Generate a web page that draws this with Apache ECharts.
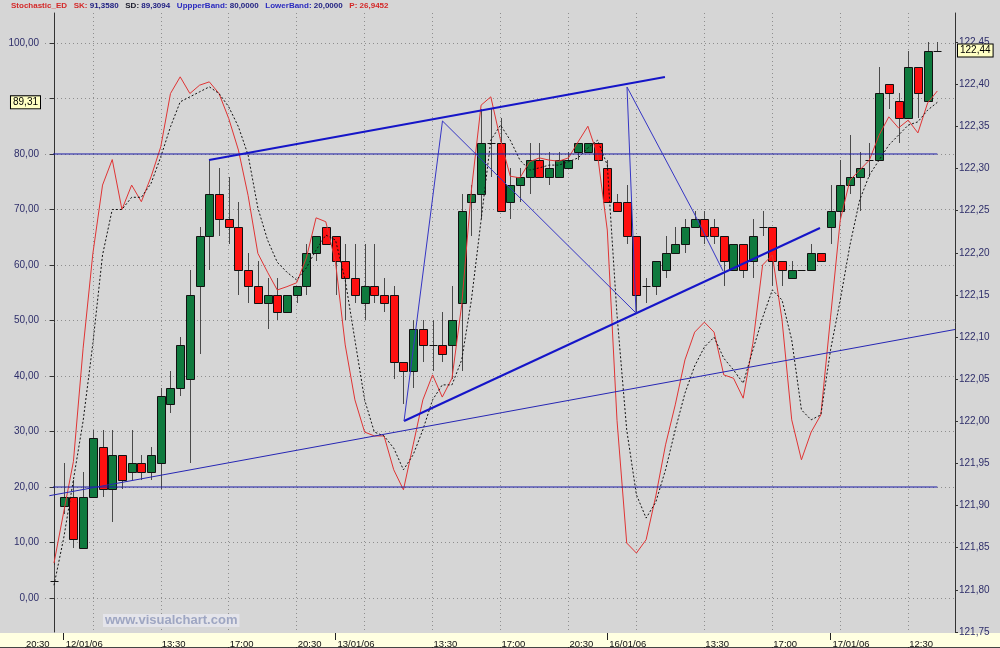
<!DOCTYPE html>
<html><head><meta charset="utf-8">
<script src="https://cdn.jsdelivr.net/npm/echarts@6/dist/echarts.min.js"></script>
<style>html,body{margin:0;padding:0;background:#d6d6d6}#c{width:1000px;height:648px}</style>
</head><body><div id="c"></div><script>
// ---------- DATA ----------
const opens  = [121.81,121.90,121.91,121.85,121.91,121.97,121.92,121.96,121.94,121.95,121.94,121.95,122.02,122.04,122.05,122.16,122.22,122.27,122.24,122.23,122.18,122.16,122.14,122.15,122.13,122.15,122.16,122.20,122.23,122.22,122.19,122.17,122.14,122.16,122.15,122.15,122.07,122.06,122.11,122.09,122.09,122.09,122.14,122.26,122.27,122.33,122.33,122.26,122.28,122.29,122.31,122.29,122.29,122.30,122.32,122.32,122.33,122.30,122.26,122.26,122.22,122.16,122.16,122.18,122.20,122.21,122.23,122.24,122.23,122.22,122.18,122.21,122.19,122.23,122.23,122.19,122.17,122.18,122.18,122.20,122.23,122.25,122.28,122.29,122.31,122.31,122.40,122.38,122.36,122.42,122.38,122.44];
const closes = [121.81,121.91,121.86,121.91,121.98,121.92,121.96,121.93,121.95,121.94,121.96,122.03,122.04,122.09,122.15,122.22,122.27,122.24,122.23,122.18,122.16,122.14,122.15,122.13,122.15,122.16,122.20,122.22,122.21,122.19,122.17,122.15,122.16,122.15,122.14,122.07,122.06,122.11,122.09,122.09,122.08,122.12,122.25,122.27,122.33,122.33,122.25,122.28,122.29,122.31,122.29,122.30,122.31,122.31,122.33,122.33,122.31,122.26,122.25,122.22,122.15,122.16,122.19,122.20,122.21,122.23,122.24,122.22,122.22,122.19,122.21,122.18,122.22,122.23,122.19,122.18,122.18,122.18,122.20,122.19,122.25,122.28,122.29,122.30,122.31,122.39,122.39,122.36,122.42,122.39,122.44,122.44];
const highs  = [121.83,121.95,121.93,121.94,121.99,121.99,121.99,121.96,121.99,121.96,121.97,122.04,122.06,122.10,122.18,122.23,122.31,122.30,122.29,122.26,122.20,122.19,122.17,122.17,122.15,122.16,122.21,122.22,122.23,122.22,122.21,122.21,122.21,122.21,122.17,122.16,122.07,122.12,122.12,122.12,122.13,122.16,122.27,122.28,122.37,122.37,122.36,122.30,122.30,122.33,122.33,122.32,122.32,122.32,122.33,122.33,122.33,122.31,122.27,122.28,122.22,122.17,122.19,122.22,122.23,122.24,122.25,122.25,122.24,122.22,122.21,122.21,122.24,122.25,122.23,122.19,122.19,122.18,122.21,122.20,122.28,122.31,122.34,122.32,122.33,122.42,122.40,122.39,122.44,122.42,122.45,122.45];
const lows   = [121.79,121.89,121.85,121.85,121.91,121.91,121.88,121.92,121.93,121.93,121.93,121.92,122.01,122.03,121.95,122.08,122.18,122.22,122.21,122.15,122.14,122.14,122.11,122.12,122.13,122.14,122.15,122.19,122.21,122.15,122.12,122.14,122.12,122.14,122.13,122.05,122.02,122.04,122.07,122.06,122.07,122.05,122.06,122.22,122.24,122.29,122.25,122.24,122.26,122.27,122.29,122.28,122.29,122.30,122.31,122.32,122.31,122.26,122.25,122.21,122.13,122.14,122.15,122.17,122.20,122.20,122.23,122.21,122.21,122.16,122.18,122.17,122.17,122.22,122.16,122.16,122.17,122.18,122.18,122.19,122.21,122.24,122.27,122.25,122.29,122.31,122.37,122.33,122.36,122.36,122.38,122.44];
const stochK = [6.3,15.5,24.6,45,62,74.4,79.0,70.0,74.4,71.4,75.9,81.3,90.9,93.9,90.9,92.4,93.0,90.9,86.4,80.7,72.5,62.1,58.7,55.5,56.1,56.8,61.3,68.5,67.8,60.5,45.6,35.7,29.9,29.2,29.2,23.1,19.5,27.6,35.7,40.2,36.2,39.6,52.8,73.5,88.8,90.3,82.5,76.0,75.7,78.6,79.3,78.9,78.7,79.3,82.2,85.0,79.8,66.3,32.0,9.9,8.1,10.5,18.4,27.6,34.8,42.9,47.9,49.7,47.9,40.2,39.6,36.0,45.9,60.0,61.8,50.1,32.1,24.9,29.9,33.0,50.6,68.1,75.3,77.1,78.9,83.4,86.7,84.7,86.1,83.8,89.2,91.358];
const stochD = [2.3,10.8,21.3,31.9,45.8,61.8,70.0,70.0,72.2,72.2,74.7,79.5,84.9,89.4,90.3,91.2,92.1,90.9,88.5,84.9,79.8,70.3,64.5,60.5,58.7,57.3,59.5,62.7,65.4,64.5,57.3,46.5,35.7,29.9,29.2,27.0,23.1,25.8,30.3,35.7,38.4,38.4,42.9,53.7,68.1,82.5,85.2,82.5,78.9,77.1,77.5,78.0,78.0,78.6,79.3,81.1,82.5,78.0,51.0,30.3,18.6,14.4,17.3,23.1,30.3,36.9,41.8,45.2,47.0,43.2,41.1,38.7,44.7,50.5,55.5,53.7,46.5,33.9,32.1,33.0,44.7,53.7,63.6,71.7,76.2,78.9,81.6,83.4,85.2,85.8,87.9,89.3094];
const upperBand = 80, lowerBand = 20;
const bandSpan = [-0.1, 91];
const trendThin = [[-0.48, 18.43], [92.82, 48.38]];
const trendTop = [[15.97, 78.92], [62.94, 93.87]];
const trendLow = [[36.06, 31.89], [78.91, 66.67]];
const zigA = [[36.06, 31.89], [40.02, 85.95], [59.96, 51.35]];
const zigB = [[59.96, 51.35], [59.03, 92.07], [65.93, 69.37], [68.92, 58.92]];
const stochTicks = [0,10,20,30,40,50,60,70,80,90,100];
const stochLabels = [0,10,20,30,40,50,60,70,80,100];
const gridTicks = [4,11,18,25,32,39,46,53,60,67,74,81,88];
const timeTickIdx = [-3,11,18,25,39,46,53,67,74,88];
const timeTickLbl = ['20:30','13:30','17:00','20:30','13:30','17:00','20:30','13:30','17:00','12:30'];
const dateTickIdx = [1,29,57,80];
const dateTickLbl = ['12/01/06','13/01/06','16/01/06','17/01/06'];
const header = {name:'Stochastic_ED', sk:'91,3580', sd:'89,3094', up:'80,0000', low:'20,0000', p:'26,9452'};
const lastSD = 89.31, lastPrice = 122.44;

// ---------- LAYOUT ----------
const X_MIN = -0.927, X_MAX = 92.82;          // main plot (45..955 px)
const XB_MIN = -5.563, XB_MAX = 97.455;       // bottom band (0..1000 px)
const FONT = '"Liberation Sans", Arial, sans-serif';
const comma = (v, d) => v.toFixed(d).replace('.', ',');
const lblMap = (idx, lbl) => { const m = {}; idx.forEach((v, k) => m[v] = lbl[k]); return m; };
const timeMap = lblMap(timeTickIdx, timeTickLbl), dateMap = lblMap(dateTickIdx, dateTickLbl);

const chart = echarts.init(document.getElementById('c'), null, {renderer: 'canvas'});

function renderCandle(params, api) {
  const i = api.value(0), o = api.value(1), c = api.value(2), l = api.value(3), h = api.value(4);
  const po = api.coord([i, o]), pc = api.coord([i, c]), pl = api.coord([i, l]), ph = api.coord([i, h]);
  const x = Math.round(po[0]);
  const top = Math.round(Math.min(po[1], pc[1])), bot = Math.round(Math.max(po[1], pc[1]));
  const ch = [{type: 'line', shape: {x1: x + 0.5, y1: Math.round(ph[1]), x2: x + 0.5, y2: Math.round(pl[1])},
    style: {stroke: '#4a4a4a', lineWidth: 1}}];
  if (Math.abs(o - c) < 1e-9) {
    ch.push({type: 'line', shape: {x1: x - 3.5, y1: top + 0.5, x2: x + 4.5, y2: top + 0.5}, style: {stroke: '#111', lineWidth: 1}});
  } else {
    ch.push({type: 'rect', shape: {x: x - 3.5, y: top + 0.5, width: 8, height: Math.max(bot - top, 1)},
      style: {fill: c > o ? '#0f7a3e' : '#ff1010', stroke: '#111', lineWidth: 1}});
  }
  return {type: 'group', children: ch};
}

function lineSeries(data, color, width, type, z) {
  return {type: 'line', xAxisIndex: 0, yAxisIndex: 0, data: data, showSymbol: false, silent: true, animation: false,
    lineStyle: {color: color, width: width, type: type || 'solid'}, z: z || 5, clip: true};
}

const option = {
  backgroundColor: '#d6d6d6',
  animation: false,
  title: [
    {left: 11, top: 2, padding: 0, text:
      '{r|' + header.name + '}   {r|SK:} {n|' + header.sk + '}   {k|SD:} {n|' + header.sd + '}   {b|UppperBand:} {n|' + header.up +
      '}   {b|LowerBand:} {n|' + header.low + '}   {r|P:} {r|' + header.p + '}',
      textStyle: {fontSize: 8, fontWeight: 'bold', fontFamily: FONT, rich: {
        r: {color: '#d42828', fontSize: 8, fontWeight: 'bold', fontFamily: FONT},
        n: {color: '#1c1c80', fontSize: 8, fontWeight: 'bold', fontFamily: FONT},
        k: {color: '#1a1a2a', fontSize: 8, fontWeight: 'bold', fontFamily: FONT},
        b: {color: '#2a2abf', fontSize: 8, fontWeight: 'bold', fontFamily: FONT}}}},
    {left: 103, top: 614, text: 'www.visualchart.com', backgroundColor: '#e4e4ea', padding: [0, 2, 0, 2],
      textStyle: {fontSize: 13, fontWeight: 'bold', fontFamily: FONT, color: '#9ea6c2'}}
  ],
  grid: [
    {left: 45, right: 45, top: 13, bottom: 16, show: true, backgroundColor: '#d6d6d6', borderWidth: 0},
    {left: 0, right: 0, top: 633, height: 15, show: true, backgroundColor: '#ffffe1', borderWidth: 0}
  ],
  xAxis: [
    {type: 'value', gridIndex: 0, min: X_MIN, max: X_MAX, axisLine: {show: false}, axisLabel: {show: false},
      axisTick: {show: false, customValues: gridTicks},
      splitLine: {show: true, lineStyle: {color: '#8e8e8e', type: [1, 3], width: 1}}},
    {type: 'value', gridIndex: 1, min: XB_MIN, max: XB_MAX, position: 'top',
      axisLine: {show: true, lineStyle: {color: '#444', width: 1}},
      axisTick: {show: true, inside: true, length: 3, customValues: timeTickIdx, lineStyle: {color: '#222'}},
      axisLabel: {show: true, inside: true, customValues: timeTickIdx, formatter: v => timeMap[v] || '',
        align: 'left', margin: 6, fontSize: 9.5, color: '#111', fontFamily: FONT, padding: [0, 0, 0, 1]},
      splitLine: {show: false}},
    {type: 'value', gridIndex: 1, min: XB_MIN, max: XB_MAX, position: 'top',
      axisLine: {show: false},
      axisTick: {show: true, inside: true, length: 7, customValues: dateTickIdx, lineStyle: {color: '#222'}},
      axisLabel: {show: true, inside: true, customValues: dateTickIdx, formatter: v => dateMap[v] || '',
        align: 'left', margin: 6, fontSize: 9.5, color: '#111', fontFamily: FONT, padding: [0, 0, 0, 2]},
      splitLine: {show: false}}
  ],
  yAxis: [
    {type: 'value', gridIndex: 0, position: 'left', min: -6.126, max: 105.405,
      axisLine: {show: true, lineStyle: {color: '#333', width: 1}},
      axisTick: {show: true, length: 4, customValues: stochTicks, lineStyle: {color: '#333'}},
      axisLabel: {show: true, customValues: stochLabels, formatter: v => comma(v, 2), margin: 6,
        fontSize: 10, color: '#2e2e6a', fontFamily: FONT},
      splitLine: {show: true, lineStyle: {color: '#8e8e8e', type: [1, 3], width: 1}}},
    {type: 'value', gridIndex: 0, position: 'right', min: 121.75, max: 122.4845, interval: 0.05,
      axisLine: {show: true, onZero: false, lineStyle: {color: '#333', width: 1}},
      axisTick: {show: true, length: 3, lineStyle: {color: '#333'}},
      axisLabel: {show: true, formatter: v => comma(v, 2), margin: 4, fontSize: 10, color: '#2e2e6a', fontFamily: FONT,
        showMaxLabel: false},
      splitLine: {show: false}},
    {type: 'value', gridIndex: 1, show: false}
  ],
  series: [
    {type: 'custom', name: 'price', xAxisIndex: 0, yAxisIndex: 1, renderItem: renderCandle, z: 3,
      encode: {x: 0, y: [1, 2, 3, 4]},
      data: opens.map((o, i) => [i, o, closes[i], lows[i], highs[i]])},
    lineSeries(stochK.map((v, i) => [i, v]), '#e03434', 1, 'solid', 6),
    lineSeries(stochD.map((v, i) => [i, v]), '#111', 1, [2, 2], 6),
    lineSeries(bandSpan.map(x => [x, upperBand]), '#1a1aa6', 1, 'solid', 7),
    lineSeries(bandSpan.map(x => [x, lowerBand]), '#1a1aa6', 1, 'solid', 7),
    lineSeries(trendThin, '#2626b4', 1, 'solid', 7),
    lineSeries(trendTop, '#1515c8', 2, 'solid', 7),
    lineSeries(trendLow, '#1515c8', 2, 'solid', 7),
    lineSeries(zigA, '#3535c4', 1, 'solid', 7),
    lineSeries(zigB, '#3535c4', 1, 'solid', 7),
    {type: 'custom', xAxisIndex: 0, yAxisIndex: 0, z: 20, clip: false, data: [[X_MIN, lastSD]],
      renderItem: (p, api) => { const pt = api.coord([api.value(0), api.value(1)]);
        return {type: 'text', x: pt[0] - 5, y: pt[1], style: {text: comma(api.value(1), 2), align: 'right', verticalAlign: 'middle',
          fill: '#000', font: '10px ' + FONT, backgroundColor: '#ffffc4', borderColor: '#000', borderWidth: 1, padding: [1, 2, 1, 2]}}; }},
    {type: 'custom', xAxisIndex: 0, yAxisIndex: 1, z: 20, clip: false, data: [[X_MAX, lastPrice]],
      renderItem: (p, api) => { const pt = api.coord([api.value(0), api.value(1)]);
        return {type: 'text', x: pt[0] + 3, y: pt[1], style: {text: comma(api.value(1), 2), align: 'left', verticalAlign: 'middle',
          fill: '#000', font: '10px ' + FONT, backgroundColor: '#ffffc4', borderColor: '#000', borderWidth: 1, padding: [1, 2, 1, 2]}}; }}
  ]
};
chart.setOption(option);
</script></body></html>
